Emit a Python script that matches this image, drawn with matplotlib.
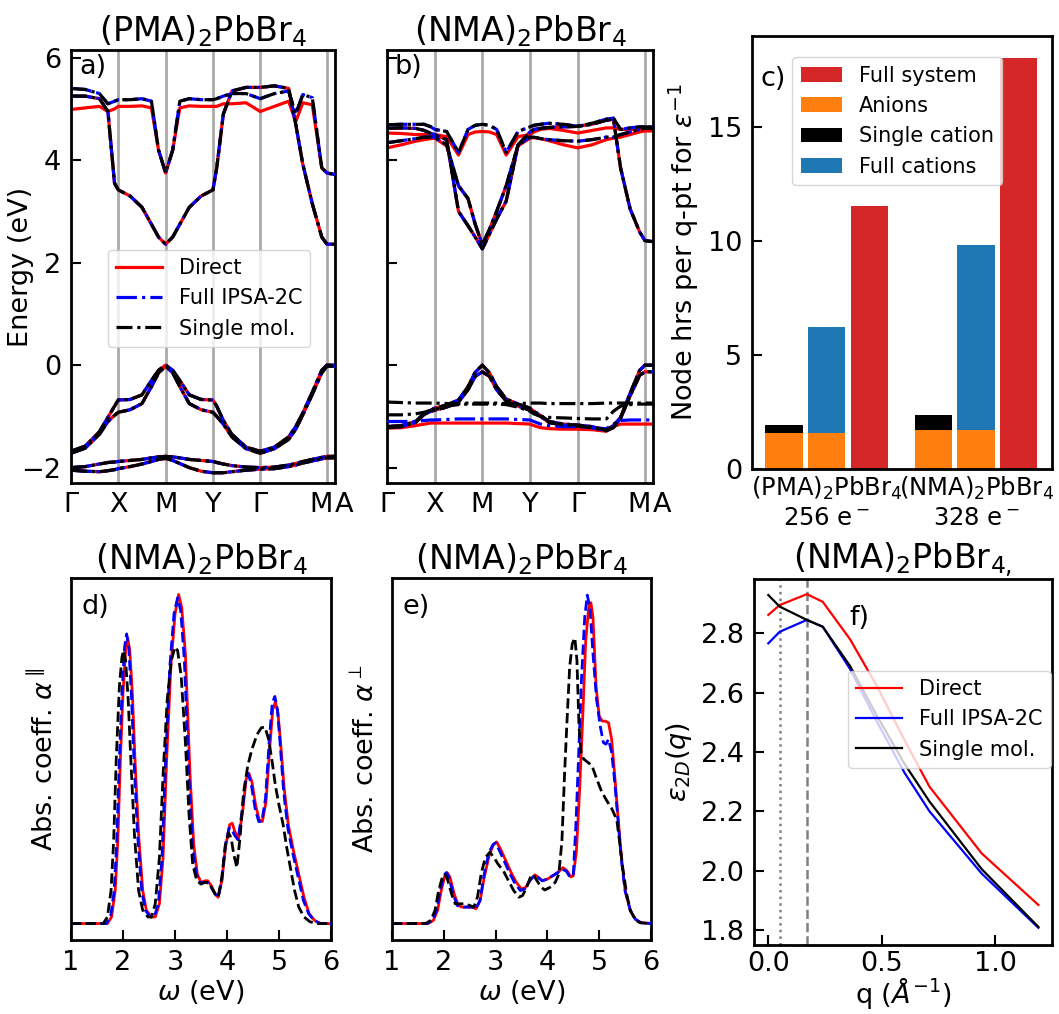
import matplotlib.pyplot as plt
import matplotlib.transforms as mtransforms

plt.rcParams["font.size"] = 19.5
plt.rcParams["axes.titlesize"] = 24
plt.rcParams["axes.linewidth"] = 2.0
plt.rcParams["legend.fontsize"] = 15

# ---------------- band structures (panels a, b) ----------------
# k-path positions: G X M Y G M A
kpts = [0.0, 0.3, 0.6, 0.78, 0.92, 1.0, 1.25, 1.5, 1.7, 1.85, 2.0, 2.15, 2.3, 2.5, 2.75,
        3.0, 3.08, 3.22, 3.4, 3.7, 4.0, 4.3, 4.6, 4.75, 4.9, 5.1, 5.3, 5.41, 5.58]
ktick_pos = [0.0, 1.0, 2.0, 3.0, 4.0, 5.41, 5.58]
ktick_lab = ["Γ", "X", "M", "Y", "Γ", "M", "A"]

# (PMA)2PbBr4
pma_vb1 = [-1.68, -1.58, -1.3, -1.02, -0.8, -0.68, -0.67, -0.58, -0.3, -0.1, 0.0, -0.1, -0.3, -0.58, -0.67,
           -0.68, -0.8, -1.08, -1.35, -1.6, -1.68, -1.6, -1.4, -1.2, -0.93, -0.53, -0.1, 0.0, 0.0]
pma_vb2 = [-1.72, -1.62, -1.35, -1.1, -0.98, -0.92, -0.87, -0.75, -0.42, -0.15, -0.02, -0.15, -0.42, -0.75, -0.87,
           -0.92, -1.0, -1.15, -1.4, -1.63, -1.72, -1.63, -1.45, -1.25, -0.97, -0.57, -0.15, -0.02, -0.02]
pma_lb1 = [-2.0, -1.98, -1.93, -1.9, -1.89, -1.88, -1.86, -1.84, -1.81, -1.79, -1.78, -1.79, -1.81, -1.84, -1.86,
           -1.88, -1.9, -1.93, -1.96, -1.99, -2.0, -1.99, -1.95, -1.92, -1.88, -1.84, -1.8, -1.78, -1.78]
pma_lb2 = [-2.05, -2.07, -2.08, -2.06, -2.04, -2.02, -1.98, -1.93, -1.88, -1.84, -1.82, -1.86, -1.92, -2.0, -2.07,
           -2.1, -2.1, -2.1, -2.08, -2.05, -2.03, -2.02, -1.98, -1.95, -1.91, -1.87, -1.83, -1.81, -1.81]
pma_cb1 = [5.25, 5.25, 5.2, 4.95, 3.55, 3.42, 3.3, 3.08, 2.75, 2.5, 2.36, 2.5, 2.75, 3.08, 3.3,
           3.42, 3.85, 4.9, 5.35, 5.42, 5.42, 5.45, 5.4, 4.7, 3.92, 3.15, 2.5, 2.36, 2.36]
pma_cb2_mol = [5.4, 5.38, 5.3, 5.1, 5.15, 5.18, 5.18, 5.2, 5.15, 4.2, 3.75, 4.2, 5.15, 5.2, 5.18,
               5.18, 5.2, 5.25, 5.3, 5.3, 5.2, 5.3, 5.35, 4.9, 5.28, 5.22, 3.85, 3.75, 3.72]
pma_cb2_dir = [4.99, 5.02, 5.05, 4.95, 5.0, 5.05, 5.05, 5.06, 5.02, 4.2, 3.75, 4.2, 5.02, 5.06, 5.05,
               5.05, 5.05, 5.1, 5.1, 5.12, 4.95, 5.05, 5.15, 4.75, 5.12, 5.08, 3.85, 3.75, 3.72]

# (NMA)2PbBr4
nma_vb1 = [-1.2, -1.18, -1.1, -0.94, -0.88, -0.84, -0.78, -0.68, -0.42, -0.14, 0.0, -0.15, -0.42, -0.66, -0.76,
           -0.84, -0.9, -0.98, -1.1, -1.15, -1.17, -1.2, -1.27, -1.18, -1.02, -0.55, -0.1, 0.0, 0.0]
nma_vb2 = [-1.22, -1.2, -1.12, -0.96, -0.9, -0.88, -0.82, -0.72, -0.48, -0.22, -0.13, -0.22, -0.48, -0.7, -0.8,
           -0.88, -0.93, -1.0, -1.12, -1.17, -1.19, -1.22, -1.28, -1.22, -1.04, -0.6, -0.2, -0.13, -0.13]
nma_fl_mol1 = [-0.72, -0.73, -0.74, -0.74, -0.74, -0.74, -0.75, -0.75, -0.74, -0.74, -0.74, -0.74, -0.74, -0.75, -0.75,
               -0.74, -0.74, -0.74, -0.75, -0.75, -0.75, -0.75, -0.74, -0.74, -0.74, -0.74, -0.74, -0.74, -0.74]
nma_fl_mol2 = [-0.97, -0.97, -0.95, -0.92, -0.88, -0.86, -0.8, -0.77, -0.76, -0.76, -0.76, -0.76, -0.76, -0.77, -0.82,
               -0.9, -0.95, -1.0, -1.02, -1.03, -1.04, -1.05, -1.05, -0.9, -0.8, -0.77, -0.76, -0.76, -0.76]
nma_fl_ipsa = [-1.1, -1.1, -1.1, -1.08, -1.07, -1.07, -1.06, -1.05, -1.05, -1.05, -1.05, -1.05, -1.05, -1.05, -1.06,
               -1.07, -1.1, -1.15, -1.18, -1.2, -1.2, -1.22, -1.24, -1.15, -1.08, -1.07, -1.07, -1.07, -1.07]
nma_fl_dir = [-1.23, -1.22, -1.18, -1.15, -1.13, -1.13, -1.13, -1.13, -1.13, -1.13, -1.13, -1.13, -1.13, -1.13, -1.14,
              -1.15, -1.18, -1.22, -1.24, -1.25, -1.25, -1.26, -1.29, -1.2, -1.15, -1.15, -1.15, -1.15, -1.15]
nma_cb1 = [4.62, 4.63, 4.62, 4.58, 4.52, 4.5, 4.4, 3.0, 2.72, 2.5, 2.27, 2.56, 2.85, 3.2, 4.3,
           4.55, 4.6, 4.62, 4.64, 4.65, 4.66, 4.7, 4.78, 4.8, 3.85, 3.05, 2.6, 2.43, 2.41]
nma_cb2_mol = [4.34, 4.38, 4.42, 4.45, 4.45, 4.45, 4.3, 3.5, 3.25, 2.75, 2.35, 2.65, 3.0, 3.5, 4.3,
               4.45, 4.45, 4.42, 4.4, 4.38, 4.37, 4.4, 4.45, 4.45, 4.5, 4.55, 4.6, 4.62, 4.62]
nma_cb2_dir = [4.24, 4.3, 4.37, 4.4, 4.42, 4.43, 4.28, 3.5, 3.25, 2.75, 2.35, 2.65, 3.0, 3.5, 4.28,
               4.43, 4.44, 4.42, 4.38, 4.3, 4.24, 4.3, 4.4, 4.43, 4.45, 4.5, 4.55, 4.57, 4.57]
nma_cb3_mol = [4.69, 4.7, 4.7, 4.7, 4.65, 4.6, 4.56, 4.15, 4.6, 4.68, 4.7, 4.68, 4.6, 4.15, 4.56,
               4.65, 4.68, 4.7, 4.72, 4.7, 4.66, 4.72, 4.8, 4.82, 4.6, 4.63, 4.65, 4.65, 4.65]
nma_cb3_dir = [4.53, 4.52, 4.5, 4.5, 4.5, 4.5, 4.46, 4.1, 4.5, 4.55, 4.56, 4.55, 4.5, 4.1, 4.46,
               4.5, 4.55, 4.6, 4.62, 4.58, 4.53, 4.58, 4.63, 4.63, 4.6, 4.6, 4.6, 4.6, 4.6]

pma_direct = [pma_vb1, pma_vb2, pma_lb1, pma_lb2, pma_cb1, pma_cb2_dir]
pma_ipsa = [pma_vb1, pma_vb2, pma_lb1, pma_lb2, pma_cb1, pma_cb2_mol]
pma_single = [pma_vb1, pma_vb2, pma_lb1, pma_lb2, pma_cb1, pma_cb2_mol]
nma_direct = [nma_vb1, nma_vb2, nma_fl_dir, nma_cb1, nma_cb2_dir, nma_cb3_dir]
nma_ipsa = [nma_vb1, nma_vb2, nma_fl_ipsa, nma_cb1, nma_cb2_mol, nma_cb3_mol]
nma_single = [nma_vb1, nma_vb2, nma_fl_mol1, nma_fl_mol2, nma_cb1, nma_cb2_mol, nma_cb3_mol]

# ---------------- panel c: timings ----------------
c_groups = ["(PMA)$_2$PbBr$_4$\n256 e$^-$", "(NMA)$_2$PbBr$_4$\n328 e$^-$"]
t_anions = [1.6, 1.7]
t_single_top = [1.95, 2.35]
t_cations_top = [6.25, 9.85]
t_full = [11.55, 18.05]

# ---------------- panel d: alpha parallel ----------------
wd_dir = [1.0, 1.7, 1.78, 1.85, 1.9, 1.95, 2.0, 2.05, 2.09, 2.13, 2.18, 2.23, 2.3, 2.38, 2.45, 2.55, 2.62, 2.7,
          2.77, 2.84, 2.92, 3.0, 3.07, 3.13, 3.2, 3.29, 3.36, 3.43, 3.5, 3.58, 3.63, 3.7, 3.77, 3.83, 3.9, 3.97,
          4.05, 4.1, 4.15, 4.22, 4.3, 4.37, 4.42, 4.48, 4.55, 4.62, 4.68, 4.75, 4.82, 4.88, 4.93, 4.98, 5.03,
          5.1, 5.18, 5.28, 5.38, 5.48, 5.58, 5.68, 5.8, 6.0]
ad_dir = [0, 0, 0.02, 0.1, 0.25, 0.5, 0.7, 0.83, 0.868, 0.83, 0.7, 0.5, 0.27, 0.1, 0.04, 0.02, 0.02, 0.06,
          0.2, 0.5, 0.78, 0.94, 1.0, 0.96, 0.82, 0.45, 0.24, 0.15, 0.125, 0.13, 0.13, 0.115, 0.09, 0.08, 0.13, 0.23,
          0.3, 0.305, 0.28, 0.255, 0.34, 0.44, 0.457, 0.43, 0.36, 0.315, 0.31, 0.37, 0.53, 0.65, 0.673, 0.64, 0.55,
          0.41, 0.3, 0.22, 0.15, 0.08, 0.03, 0.01, 0.0, 0.0]
wd_ipsa = [1.0, 1.68, 1.76, 1.83, 1.88, 1.93, 1.98, 2.03, 2.07, 2.11, 2.16, 2.21, 2.28, 2.36, 2.43, 2.53, 2.6, 2.68,
           2.75, 2.82, 2.9, 2.98, 3.05, 3.11, 3.18, 3.27, 3.34, 3.41, 3.48, 3.56, 3.62, 3.7, 3.77, 3.83, 3.9, 3.97,
           4.04, 4.08, 4.14, 4.21, 4.29, 4.36, 4.41, 4.47, 4.54, 4.61, 4.67, 4.74, 4.81, 4.87, 4.92, 4.97, 5.02,
           5.09, 5.17, 5.27, 5.37, 5.47, 5.57, 5.67, 5.8, 6.0]
ad_ipsa = [0, 0, 0.02, 0.1, 0.25, 0.5, 0.7, 0.84, 0.88, 0.84, 0.7, 0.5, 0.27, 0.1, 0.04, 0.02, 0.02, 0.06,
           0.2, 0.5, 0.78, 0.94, 0.99, 0.95, 0.8, 0.44, 0.23, 0.15, 0.125, 0.125, 0.125, 0.11, 0.09, 0.08, 0.13, 0.24,
           0.29, 0.29, 0.27, 0.255, 0.34, 0.44, 0.455, 0.42, 0.35, 0.31, 0.31, 0.38, 0.55, 0.67, 0.69, 0.65, 0.55,
           0.4, 0.29, 0.21, 0.14, 0.07, 0.03, 0.01, 0.0, 0.0]
wd_mol = [1.0, 1.62, 1.7, 1.77, 1.82, 1.87, 1.93, 1.98, 2.01, 2.05, 2.1, 2.15, 2.22, 2.3, 2.38, 2.48, 2.55, 2.62,
          2.7, 2.77, 2.85, 2.93, 3.0, 3.05, 3.12, 3.2, 3.27, 3.34, 3.42, 3.5, 3.57, 3.63, 3.7, 3.77, 3.83, 3.9,
          3.97, 4.03, 4.08, 4.13, 4.19, 4.25, 4.32, 4.4, 4.48, 4.58, 4.66, 4.73, 4.8, 4.87, 4.93, 5.0, 5.08,
          5.15, 5.23, 5.3, 5.38, 5.48, 5.6, 5.75, 6.0]
ad_mol = [0, 0, 0.02, 0.1, 0.25, 0.5, 0.72, 0.81, 0.83, 0.8, 0.68, 0.5, 0.27, 0.1, 0.04, 0.02, 0.02, 0.06,
          0.2, 0.45, 0.68, 0.8, 0.84, 0.83, 0.75, 0.55, 0.33, 0.18, 0.13, 0.12, 0.125, 0.125, 0.11, 0.09, 0.08, 0.14,
          0.24, 0.275, 0.26, 0.21, 0.17, 0.26, 0.4, 0.48, 0.53, 0.575, 0.595, 0.597, 0.56, 0.49, 0.42, 0.36, 0.3,
          0.23, 0.16, 0.1, 0.05, 0.02, 0.005, 0.0, 0.0]

# ---------------- panel e: alpha perpendicular ----------------
we_dir = [1.0, 1.7, 1.8, 1.88, 1.95, 2.02, 2.07, 2.12, 2.2, 2.28, 2.35, 2.45, 2.55, 2.62, 2.7, 2.78, 2.88, 2.96,
          3.02, 3.1, 3.2, 3.3, 3.4, 3.5, 3.58, 3.68, 3.76, 3.83, 3.9, 4.0, 4.1, 4.2, 4.3, 4.38, 4.45, 4.5, 4.56,
          4.62, 4.68, 4.74, 4.8, 4.84, 4.88, 4.94, 5.0, 5.06, 5.12, 5.18, 5.24, 5.3, 5.36, 5.43, 5.5, 5.6, 5.7,
          5.8, 6.0]
ae_dir = [0, 0, 0.01, 0.04, 0.1, 0.145, 0.154, 0.14, 0.09, 0.055, 0.05, 0.05, 0.05, 0.045, 0.07, 0.14, 0.21, 0.24,
          0.248, 0.225, 0.19, 0.155, 0.125, 0.105, 0.11, 0.135, 0.148, 0.14, 0.13, 0.135, 0.145, 0.155, 0.17, 0.16,
          0.142, 0.145, 0.22, 0.4, 0.62, 0.86, 0.965, 0.975, 0.93, 0.72, 0.63, 0.615, 0.615, 0.61, 0.56, 0.45,
          0.33, 0.2, 0.1, 0.04, 0.013, 0.003, 0.0]
we_ipsa = [1.0, 1.68, 1.78, 1.86, 1.93, 2.0, 2.05, 2.1, 2.18, 2.26, 2.35, 2.45, 2.55, 2.62, 2.7, 2.78, 2.87, 2.95,
           3.0, 3.08, 3.18, 3.28, 3.38, 3.48, 3.56, 3.66, 3.74, 3.82, 3.9, 4.0, 4.1, 4.2, 4.28, 4.36, 4.44, 4.5,
           4.55, 4.6, 4.66, 4.72, 4.77, 4.82, 4.88, 4.95, 5.02, 5.08, 5.13, 5.18, 5.24, 5.3, 5.36, 5.43, 5.5,
           5.6, 5.7, 5.8, 6.0]
ae_ipsa = [0, 0, 0.01, 0.04, 0.1, 0.145, 0.155, 0.14, 0.09, 0.055, 0.05, 0.05, 0.05, 0.045, 0.07, 0.15, 0.215,
           0.24, 0.245, 0.22, 0.185, 0.15, 0.12, 0.1, 0.105, 0.13, 0.145, 0.14, 0.13, 0.135, 0.145, 0.155, 0.165,
           0.16, 0.14, 0.15, 0.3, 0.5, 0.75, 0.93, 0.998, 0.96, 0.82, 0.68, 0.6, 0.55, 0.545, 0.56, 0.52, 0.43,
           0.32, 0.19, 0.1, 0.04, 0.013, 0.003, 0.0]
we_mol = [1.0, 1.65, 1.75, 1.83, 1.9, 1.97, 2.02, 2.07, 2.15, 2.22, 2.3, 2.4, 2.5, 2.58, 2.65, 2.72, 2.8, 2.89,
          2.97, 3.05, 3.15, 3.25, 3.35, 3.45, 3.52, 3.6, 3.67, 3.73, 3.8, 3.88, 3.95, 4.05, 4.15, 4.22, 4.28,
          4.33, 4.38, 4.43, 4.48, 4.53, 4.57, 4.61, 4.65, 4.7, 4.78, 4.86, 4.95, 5.05, 5.14, 5.24, 5.34, 5.4,
          5.46, 5.53, 5.6, 5.7, 5.8, 6.0]
ae_mol = [0, 0, 0.01, 0.04, 0.1, 0.14, 0.15, 0.135, 0.09, 0.06, 0.06, 0.06, 0.055, 0.05, 0.08, 0.15, 0.2, 0.217,
          0.2, 0.18, 0.16, 0.13, 0.1, 0.08, 0.085, 0.11, 0.14, 0.148, 0.13, 0.11, 0.102, 0.11, 0.125, 0.15, 0.25,
          0.45, 0.62, 0.78, 0.85, 0.868, 0.8, 0.6, 0.52, 0.5, 0.49, 0.48, 0.44, 0.4, 0.375, 0.35, 0.315, 0.24,
          0.163, 0.09, 0.04, 0.01, 0.002, 0.0]

# ---------------- panel f: eps_2D(q) ----------------
q_vals = [0.0, 0.05, 0.17, 0.24, 0.36, 0.48, 0.6, 0.71, 0.94, 1.19]
eps_dir = [2.862, 2.895, 2.932, 2.906, 2.78, 2.62, 2.44, 2.283, 2.058, 1.884]
eps_ipsa = [2.766, 2.805, 2.845, 2.822, 2.68, 2.5, 2.33, 2.2, 1.99, 1.807]
eps_mol = [2.929, 2.89, 2.845, 2.822, 2.69, 2.52, 2.36, 2.233, 2.005, 1.81]

# ---------------- layout ----------------
W, H = 1059, 1014
fig = plt.figure(figsize=(W / 100, H / 100), dpi=100)


def rect(l, t, r, b):
    return [l / W, 1 - b / H, (r - l) / W, (b - t) / H]


ax_a = fig.add_axes(rect(71, 50, 335, 483))
ax_b = fig.add_axes(rect(387, 50, 653, 483))
ax_c = fig.add_axes(rect(752, 36, 1052, 469))
ax_d = fig.add_axes(rect(71, 578, 331, 940))
ax_e = fig.add_axes(rect(392, 578, 651, 940))
ax_f = fig.add_axes(rect(754, 579, 1052, 945))

for ax in [ax_a, ax_b, ax_c, ax_d, ax_e, ax_f]:
    ax.tick_params(direction="in", length=7, width=1.5, pad=7)

# bands
for ax, direct, ipsa, single, title, lab in [
        (ax_a, pma_direct, pma_ipsa, pma_single, "(PMA)$_2$PbBr$_4$", "a)"),
        (ax_b, nma_direct, nma_ipsa, nma_single, "(NMA)$_2$PbBr$_4$", "b)")]:
    for kx in ktick_pos[:-1]:
        ax.axvline(kx, color="#aaaaaa", lw=2, zorder=1)
    for i, band in enumerate(direct):
        ax.plot(kpts, band, color="red", lw=2.3, ls="-", zorder=2,
                label="Direct" if i == 0 else None)
    for i, band in enumerate(ipsa):
        ax.plot(kpts, band, color="blue", lw=2.3, ls="-.", zorder=3,
                label="Full IPSA-2C" if i == 0 else None)
    for i, band in enumerate(single):
        ax.plot(kpts, band, color="black", lw=2.3, ls=(0, (5, 1.5, 1, 1.5)), zorder=4,
                label="Single mol." if i == 0 else None)
    ax.set_xlim(0, 5.58)
    ax.set_ylim(-2.3, 6.15)
    ax.set_yticks([-2, 0, 2, 4, 6])
    ax.set_xticks([])
    # k-point labels (M and A sit side by side at the end of the path)
    trans = mtransforms.blended_transform_factory(ax.transData, ax.transAxes)
    for kx, kl in zip(ktick_pos, ktick_lab):
        ha = "center"
        if kl == "A":
            ha = "left"
        if kx == 5.41:
            ha = "right"
            kx = 5.53
        ax.text(kx, -0.02, kl, transform=trans, ha=ha, va="top")
    ax.set_title(title)
    ax.text(0.03, 0.99, lab, transform=ax.transAxes, va="top", ha="left")

ax_a.set_ylabel("Energy (eV)")
ax_a.yaxis.set_label_coords(-0.14, 0.5)
ax_b.set_yticklabels([])
ax_a.legend(loc="lower left", bbox_to_anchor=(0.1, 0.29), handlelength=2.2)

# panel c
g0 = [0.0, 1.0, 2.0]
g1 = [3.5, 4.5, 5.5]
bw = 0.88
for i, g in enumerate([g0, g1]):
    b_an = ax_c.bar([g[0], g[1]], [t_anions[i], t_anions[i]], width=bw, color="#ff7f0e")
    b_si = ax_c.bar(g[0], t_single_top[i] - t_anions[i], bottom=t_anions[i], width=bw, color="black")
    b_ca = ax_c.bar(g[1], t_cations_top[i] - t_anions[i], bottom=t_anions[i], width=bw, color="#1f77b4")
    b_fu = ax_c.bar(g[2], t_full[i], width=bw, color="#d62728")
ax_c.set_xlim(-0.75, 6.28)
ax_c.set_ylim(0, 19)
ax_c.set_yticks([0, 5, 10, 15])
ax_c.set_xticks([1.0, 4.5])
ax_c.set_xticklabels(c_groups, fontsize=17.5)
ax_c.tick_params(axis="x", length=0, pad=4)
ax_c.set_ylabel(r"Node hrs per q-pt for $\varepsilon^{-1}$")
ax_c.yaxis.set_label_coords(-0.17, 0.5)
ax_c.legend([b_fu, b_an, b_si, b_ca], ["Full system", "Anions", "Single cation", "Full cations"],
            loc="upper left", bbox_to_anchor=(0.1, 0.975), handlelength=2.0)
ax_c.text(0.03, 0.93, "c)", transform=ax_c.transAxes, va="top", ha="left")

# panels d, e
for ax, wr, ar, wb, ab, wk, ak, ylab, lab in [
        (ax_d, wd_dir, ad_dir, wd_ipsa, ad_ipsa, wd_mol, ad_mol, r"Abs. coeff. $\alpha^{\parallel}$", "d)"),
        (ax_e, we_dir, ae_dir, we_ipsa, ae_ipsa, we_mol, ae_mol, r"Abs. coeff. $\alpha^{\perp}$", "e)")]:
    ax.plot(wr, ar, color="red", lw=2, ls="-", zorder=2)
    ax.plot(wb, ab, color="blue", lw=2, ls="--", zorder=3)
    ax.plot(wk, ak, color="black", lw=2, ls="--", zorder=4)
    ax.set_xlim(1, 6)
    ax.set_ylim(-0.05, 1.05)
    ax.set_xticks([1, 2, 3, 4, 5, 6])
    ax.set_yticks([])
    ax.set_xlabel(r"$\omega$ (eV)", labelpad=2)
    ax.set_ylabel(ylab)
    ax.yaxis.set_label_coords(-0.045, 0.5)
    ax.set_title("(NMA)$_2$PbBr$_4$")
    ax.text(0.04, 0.955, lab, transform=ax.transAxes, va="top", ha="left")

# panel f
ax_f.axvline(0.05, color="gray", ls=":", lw=1.8)
ax_f.axvline(0.17, color="gray", ls="--", lw=1.8)
ax_f.plot(q_vals, eps_dir, color="red", lw=1.6, label="Direct")
ax_f.plot(q_vals, eps_ipsa, color="blue", lw=1.6, label="Full IPSA-2C")
ax_f.plot(q_vals, eps_mol, color="black", lw=1.6, label="Single mol.")
ax_f.set_xlim(-0.063, 1.25)
ax_f.set_ylim(1.749, 2.983)
ax_f.set_xticks([0.0, 0.5, 1.0])
ax_f.set_yticks([1.8, 2.0, 2.2, 2.4, 2.6, 2.8])
ax_f.tick_params(axis="x", pad=4)
ax_f.set_xlabel(r"q ($\AA^{-1}$)", labelpad=-1)
ax_f.set_ylabel(r"$\varepsilon_{2D}(q)$")
ax_f.yaxis.set_label_coords(-0.2, 0.5)
ax_f.set_title("(NMA)$_2$PbBr$_{4,}$")
ax_f.legend(loc="lower left", bbox_to_anchor=(0.28, 0.455), handlelength=2.2)
ax_f.text(0.32, 0.93, "f)", transform=ax_f.transAxes, va="top", ha="left")

fig.savefig("out.png", dpi=100)
